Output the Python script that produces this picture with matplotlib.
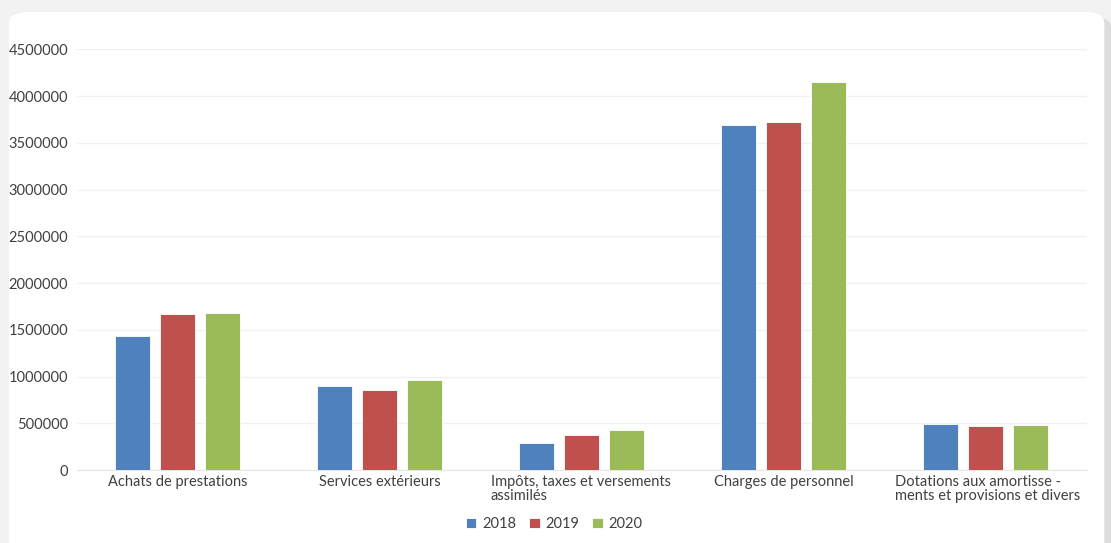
import matplotlib.pyplot as plt
import numpy as np
from matplotlib.patches import FancyBboxPatch

categories = ["Achats de prestations", "Services extérieurs",
              "Impôts, taxes et versements\nassimilés", "Charges de personnel",
              "Dotations aux amortisse -\nments et provisions et divers"]
years = ["2018", "2019", "2020"]
v2018 = [1432000, 898000, 289000, 3687000, 492000]
v2019 = [1667000, 860000, 374000, 3720000, 476000]
v2020 = [1678000, 962000, 428000, 4147000, 481000]
colors = ["#4f81bd", "#c0504d", "#9bbb59"]

plt.rcParams['font.family'] = ['Lato', 'DejaVu Sans']

fig = plt.figure(figsize=(11.11, 5.43), dpi=100)
fig.patch.set_facecolor('#f2f2f2')

# card with shadow
shadow = FancyBboxPatch((0.011, -0.05), 0.989, 1.02, boxstyle="round,pad=0,rounding_size=0.02",
                        transform=fig.transFigure, facecolor='#dcdcdc', edgecolor='none', zorder=-10)
card = FancyBboxPatch((0.008, -0.05), 0.986, 1.028, boxstyle="round,pad=0,rounding_size=0.02",
                      transform=fig.transFigure, facecolor='white', edgecolor='none', zorder=-9)
fig.patches.extend([shadow, card])

ax = fig.add_axes([0.069, 0.134, 0.909, 0.775])
ax.set_facecolor('none')
ax.set_zorder(1)

x = np.arange(len(categories))
w = 0.174
off = 0.223
for i, (vals, c, yr) in enumerate(zip([v2018, v2019, v2020], colors, years)):
    ax.bar(x + (i - 1) * off, vals, w, color=c, label=yr, zorder=3,
           edgecolor='white', linewidth=0.6)

ax.set_xlim(-0.5, 4.5)
ax.set_ylim(0, 4500000)
ax.set_yticks(np.arange(0, 4500001, 500000))
ax.set_yticklabels([str(v) for v in range(0, 4500001, 500000)], fontsize=10.5, color='#404040')
ax.yaxis.grid(True, color='#f0f0f0', linewidth=1, zorder=0)
ax.tick_params(axis='y', length=0, pad=6)
ax.tick_params(axis='x', length=0, pad=5)
for s in ['top', 'right', 'left']:
    ax.spines[s].set_visible(False)
ax.spines['bottom'].set_color('#e6e6e6')

ax.set_xticks(x)
ax.set_xticklabels([])
for xi, lab in zip(x, categories):
    if '\n' in lab:
        ax.text(xi - 0.45, -0.012, lab, transform=ax.get_xaxis_transform(), ha='left', va='top',
                fontsize=10.5, color='#404040', linespacing=1.0)
    else:
        ax.text(xi, -0.012, lab, transform=ax.get_xaxis_transform(), ha='center', va='top',
                fontsize=10.5, color='#404040')

leg = ax.legend(loc='upper center', bbox_to_anchor=(0.473, -0.08), ncol=3, frameon=False,
                fontsize=10.5, handlelength=0.7, handleheight=0.7, handletextpad=0.4,
                columnspacing=0.9)
for t in leg.get_texts():
    t.set_color('#404040')

fig.savefig('out.png', dpi=100, facecolor=fig.get_facecolor())
